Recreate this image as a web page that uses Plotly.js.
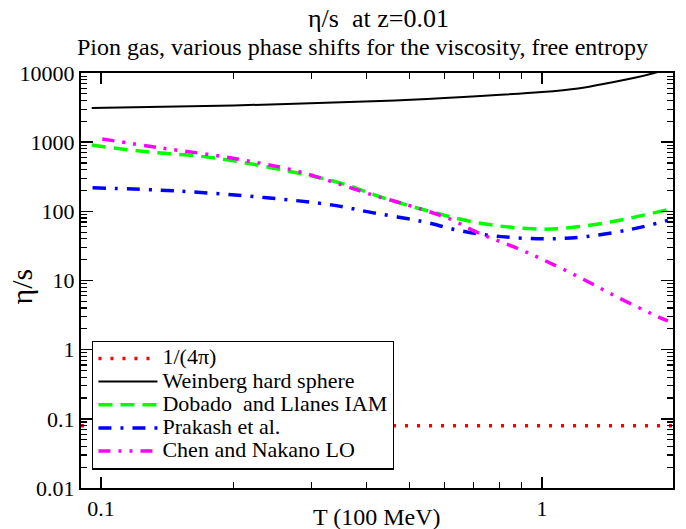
<!DOCTYPE html>
<html>
<head>
<meta charset="utf-8">
<script src="https://cdn.plot.ly/plotly-3.0.1.min.js"></script>
<style>html,body{margin:0;padding:0;background:#fff;}#chart{width:686px;height:529px;}</style>
</head>
<body>
<div id="chart"></div>
<script>
// ---- data ----
const T_kss = [0.0901, 1.982];
const eta_kss = [0.0796, 0.0796];

const T_weinberg = [0.0953, 0.2, 0.43, 0.601, 1.0, 1.207, 1.436, 1.652, 1.796, 1.982];
const eta_weinberg = [3110, 3400, 3935, 4350, 5310, 5990, 7310, 8750, 10000, 12000];

const T_dobado = [0.0953, 0.1226, 0.18, 0.2547, 0.348, 0.436, 0.561, 0.716, 0.946, 1.126, 1.436, 1.93];
const eta_dobado = [908, 743, 594, 403, 258, 157, 98.4, 68.2, 55.8, 57.1, 70.5, 106];

const T_prakash = [0.0957, 0.151, 0.2375, 0.336, 0.4145, 0.532, 0.656, 0.809, 1.018, 1.25, 1.594, 1.93];
const eta_prakash = [219, 196, 157, 123, 95, 72, 52, 43.1, 40, 43, 55, 74];

const T_chen = [0.1007, 0.136, 0.196, 0.278, 0.4145, 0.506, 0.623, 0.703, 0.767, 0.867, 1.0, 1.227, 1.486, 1.832, 1.93];
const eta_chen = [1110, 830, 595, 382, 171, 119, 76, 51.6, 41, 30.3, 20.3, 10.8, 5.7, 3.0, 2.6];

const seriesNames = ["1/(4π)", "Weinberg hard sphere", "Dobado&nbsp; and Llanes IAM", "Prakash et al.", "Chen and Nakano LO"];

const xTickVals = [0.1, 1];
const xTickText = ["0.1", "1"];
const yTickVals = [0.01, 0.1, 1, 10, 100, 1000, 10000];
const yTickText = ["0.01", "0.1", "1", "10", "100", "1000", "10000"];
const xMinorVals = [0.2, 0.3, 0.4, 0.5, 0.6, 0.7, 0.8, 0.9];
const yMinorVals = [];
[0.01, 0.1, 1, 10, 100, 1000].forEach(d => { for (let k = 2; k <= 9; k++) yMinorVals.push(d * k); });

const FONT = "Liberation Serif, Times New Roman, serif";
const legendLabel = s => "<span style='font-size:22px'>" + s + "</span>";

const traces = [
  {x: T_kss, y: eta_kss, name: legendLabel(seriesNames[0]), mode: "lines",
   line: {color: "#ff0000", width: 3.5, dash: "3px,9px"}},
  {x: T_weinberg, y: eta_weinberg, name: legendLabel(seriesNames[1]), mode: "lines",
   line: {color: "#000000", width: 2, shape: "spline"}},
  {x: T_dobado, y: eta_dobado, name: legendLabel(seriesNames[2]), mode: "lines",
   line: {color: "#00ff00", width: 3.5, dash: "14px,8px", shape: "spline"}},
  {x: T_prakash, y: eta_prakash, name: legendLabel(seriesNames[3]), mode: "lines",
   line: {color: "#0000ff", width: 3.5, dash: "13px,9px,3px,9px", shape: "spline"}},
  {x: T_chen, y: eta_chen, name: legendLabel(seriesNames[4]), mode: "lines",
   line: {color: "#ff00ff", width: 3.5, dash: "12px,8px,3px,8px,3px,8px", shape: "spline"}}
];

const axisCommon = {
  type: "log", showgrid: false, zeroline: false,
  showline: true, linecolor: "#000", linewidth: 2, mirror: "allticks",
  ticks: "inside", tickcolor: "#000", tickwidth: 1.5,
  tickmode: "array",
  tickfont: {family: FONT, size: 22, color: "#000"}
};

const layout = {
  width: 686, height: 529,
  margin: {l: 81, r: 13, t: 73, b: 41, pad: 0},
  paper_bgcolor: "#fff", plot_bgcolor: "#fff",
  showlegend: true,
  font: {family: FONT, color: "#000"},
  xaxis: Object.assign({}, axisCommon, {
    range: [Math.log10(0.0901), Math.log10(1.982)],
    tickvals: xTickVals, ticktext: xTickText, ticklen: 11,
    minor: {tickmode: "array", tickvals: xMinorVals, ticks: "inside", ticklen: 6, tickcolor: "#000", tickwidth: 1.2, showgrid: false}
  }),
  yaxis: Object.assign({}, axisCommon, {
    range: [-2, 4],
    tickvals: yTickVals, ticktext: yTickText, ticklen: 12,
    minor: {tickmode: "array", tickvals: yMinorVals, ticks: "inside", ticklen: 6, tickcolor: "#000", tickwidth: 1.2, showgrid: false}
  }),
  legend: {
    x: 0.019, y: 0.355, xanchor: "left", yanchor: "top",
    bgcolor: "#fff", bordercolor: "#000", borderwidth: 1.2,
    font: {family: FONT, size: 15.5, color: "#000"},
    tracegroupgap: 0, itemwidth: 59
  },
  annotations: [
    {text: "η/s&nbsp; at z=0.01", xref: "paper", yref: "paper", x: 0.503, y: 1.131,
     xanchor: "center", yanchor: "middle", showarrow: false, font: {family: FONT, size: 26, color: "#000"}},
    {text: "Pion gas, various phase shifts for the viscosity, free entropy", xref: "paper", yref: "paper",
     x: 0.475, y: 1.0634, xanchor: "center", yanchor: "middle", showarrow: false,
     font: {family: FONT, size: 24, color: "#000"}},
    {text: "T (100 MeV)", xref: "paper", yref: "paper", x: 0.5, y: -0.07,
     xanchor: "center", yanchor: "middle", showarrow: false, font: {family: FONT, size: 24, color: "#000"}},
    {text: "η/s", xref: "paper", yref: "paper", x: -0.1, y: 0.485, textangle: -90,
     xanchor: "center", yanchor: "middle", showarrow: false, font: {family: FONT, size: 30, color: "#000"}}
  ]
};

Plotly.newPlot("chart", traces, layout, {displayModeBar: false, staticPlot: true});
</script>
</body>
</html>
